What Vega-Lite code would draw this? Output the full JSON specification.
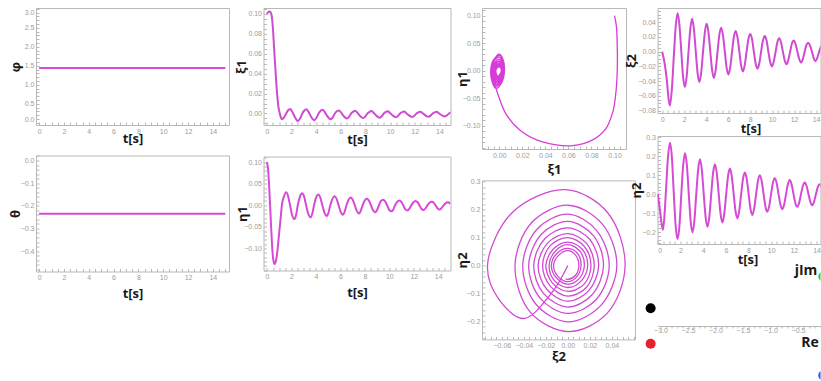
{
  "$schema": "https://vega.github.io/schema/vega-lite/v6.json",
  "background": "white",
  "padding": {"left": 8, "top": 7, "right": 0, "bottom": 0},
  "spacing": 4.5,
  "config": {
    "view": {"stroke": "#b8b8b8", "strokeWidth": 1},
    "axis": {
      "grid": false, "domain": false, "ticks": true, "tickSize": -3, "tickColor": "#b8b8b8",
      "labelPadding": 5, "labelFont": "Liberation Sans", "labelFontSize": 7, "labelColor": "#9c9c9c",
      "titleFont": "Open Sans", "titleFontSize": 13, "titleFontWeight": "bold", "titleColor": "#1a1a1a",
      "titleBaseline": "middle"
    }
  },
  "datasets": {
    "c": [{"t": 0, "phi": 1.44, "theta": -0.235}, {"t": 15, "phi": 1.44, "theta": -0.235}],
    "s1": [
      {"t":0,"xi":0.1,"eta":0.1},{"t":0.1,"xi":0.1016,"eta":0.082},{"t":0.2,"xi":0.1025,"eta":0.034},
      {"t":0.28,"xi":0.1022,"eta":-0.012},{"t":0.34,"xi":0.1008,"eta":-0.048},{"t":0.39,"xi":0.0985,"eta":-0.075},
      {"t":0.45,"xi":0.0922,"eta":-0.106},{"t":0.52,"xi":0.0807,"eta":-0.126},{"t":0.6,"xi":0.0635,"eta":-0.136},
      {"t":0.68,"xi":0.048,"eta":-0.134},{"t":0.76,"xi":0.032,"eta":-0.125},{"t":0.85,"xi":0.0175,"eta":-0.107},
      {"t":0.95,"xi":0.006,"eta":-0.079},
      {"t":1.05,"xi":0.0,"eta":-0.05},{"t":1.13,"xi":-0.0035,"eta":-0.027},{"t":1.22,"xi":-0.0058,"eta":0.0},
      {"t":1.4,"xi":-0.004,"eta":0.021},{"t":1.57,"xi":0.0,"eta":0.03},{"t":1.73,"xi":0.0032,"eta":0.021},
      {"t":1.89,"xi":0.0045,"eta":0.0},{"t":2.05,"xi":0.002,"eta":-0.022},{"t":2.25,"xi":-0.003,"eta":-0.032},
      {"t":2.4,"xi":-0.0062,"eta":-0.02},{"t":2.52,"xi":-0.0075,"eta":0.0},{"t":2.7,"xi":-0.005,"eta":0.02},
      {"t":2.88,"xi":0.0,"eta":0.028},{"t":3.04,"xi":0.003,"eta":0.02},{"t":3.2,"xi":0.0043,"eta":0.0},
      {"t":3.37,"xi":0.0018,"eta":-0.019},{"t":3.57,"xi":-0.0028,"eta":-0.028},{"t":3.72,"xi":-0.0056,"eta":-0.018},
      {"t":3.85,"xi":-0.0068,"eta":0.0},{"t":4.02,"xi":-0.0045,"eta":0.018},{"t":4.2,"xi":0.0,"eta":0.025},
      {"t":4.37,"xi":0.0027,"eta":0.017},{"t":4.53,"xi":0.0038,"eta":0.0},{"t":4.7,"xi":0.0014,"eta":-0.017},
      {"t":4.89,"xi":-0.0025,"eta":-0.025},{"t":5.04,"xi":-0.0048,"eta":-0.016},{"t":5.18,"xi":-0.0058,"eta":0.0},
      {"t":5.35,"xi":-0.004,"eta":0.015},{"t":5.52,"xi":0.0,"eta":0.021},{"t":5.69,"xi":0.0022,"eta":0.015},
      {"t":5.86,"xi":0.003,"eta":0.0},{"t":6.02,"xi":0.001,"eta":-0.015},{"t":6.21,"xi":-0.0022,"eta":-0.022},
      {"t":6.36,"xi":-0.0042,"eta":-0.014},{"t":6.5,"xi":-0.005,"eta":0.0},{"t":6.67,"xi":-0.0034,"eta":0.013},
      {"t":6.84,"xi":0.0,"eta":0.018},{"t":7.01,"xi":0.0019,"eta":0.013},{"t":7.18,"xi":0.0027,"eta":0.0},
      {"t":7.34,"xi":0.0008,"eta":-0.013},{"t":7.53,"xi":-0.002,"eta":-0.019},{"t":7.68,"xi":-0.0038,"eta":-0.012},
      {"t":7.82,"xi":-0.0046,"eta":0.0},{"t":7.99,"xi":-0.0031,"eta":0.011},{"t":8.16,"xi":0.0,"eta":0.016},
      {"t":8.33,"xi":0.0017,"eta":0.011},{"t":8.5,"xi":0.0025,"eta":0.0},{"t":8.66,"xi":0.0007,"eta":-0.011},
      {"t":8.85,"xi":-0.0018,"eta":-0.016},{"t":9.0,"xi":-0.0034,"eta":-0.011},{"t":9.15,"xi":-0.0042,"eta":0.0},
      {"t":9.32,"xi":-0.0028,"eta":0.01},{"t":9.49,"xi":0.0,"eta":0.013},{"t":9.66,"xi":0.0015,"eta":0.009},
      {"t":9.82,"xi":0.0022,"eta":0.0},{"t":9.98,"xi":0.0006,"eta":-0.01},{"t":10.17,"xi":-0.0016,"eta":-0.014},
      {"t":10.32,"xi":-0.003,"eta":-0.01},{"t":10.47,"xi":-0.0038,"eta":0.0},{"t":10.64,"xi":-0.0025,"eta":0.008},
      {"t":10.81,"xi":0.0,"eta":0.011},{"t":10.98,"xi":0.0014,"eta":0.008},{"t":11.14,"xi":0.002,"eta":0.0},
      {"t":11.3,"xi":0.0005,"eta":-0.009},{"t":11.49,"xi":-0.0015,"eta":-0.012},{"t":11.64,"xi":-0.0028,"eta":-0.008},
      {"t":11.8,"xi":-0.0035,"eta":0.0},{"t":11.97,"xi":-0.0023,"eta":0.007},{"t":12.14,"xi":0.0,"eta":0.01},
      {"t":12.31,"xi":0.0012,"eta":0.007},{"t":12.46,"xi":0.0018,"eta":0.0},{"t":12.62,"xi":0.0004,"eta":-0.008},
      {"t":12.81,"xi":-0.0014,"eta":-0.011},{"t":12.96,"xi":-0.0026,"eta":-0.007},{"t":13.12,"xi":-0.0032,"eta":0.0},
      {"t":13.29,"xi":-0.0021,"eta":0.006},{"t":13.46,"xi":0.0,"eta":0.008},{"t":13.63,"xi":0.0011,"eta":0.006},
      {"t":13.78,"xi":0.0017,"eta":0.0},{"t":13.94,"xi":0.0003,"eta":-0.007},{"t":14.13,"xi":-0.0013,"eta":-0.01},
      {"t":14.28,"xi":-0.0024,"eta":-0.006},{"t":14.44,"xi":-0.003,"eta":0.0},{"t":14.61,"xi":-0.0019,"eta":0.005},
      {"t":14.78,"xi":0.0,"eta":0.007},{"t":15.0,"xi":0.0015,"eta":0.004}
    ],
    "s2": [
      {"t":0,"xi":0,"eta":0},{"t":0.22,"xi":-0.015,"eta":-0.1},{"t":0.44,"xi":-0.04,"eta":-0.19},
      {"t":0.57,"xi":-0.062,"eta":-0.125},{"t":0.7,"xi":-0.073,"eta":0.0},{"t":0.89,"xi":-0.05,"eta":0.192},
      {"t":1.08,"xi":-0.002,"eta":0.272},{"t":1.245,"xi":0.036,"eta":0.19},{"t":1.41,"xi":0.052,"eta":0.0},
      {"t":1.575,"xi":0.036,"eta":-0.17},{"t":1.74,"xi":0.001,"eta":-0.237},{"t":1.905,"xi":-0.034,"eta":-0.168},
      {"t":2.07,"xi":-0.048,"eta":0.0},{"t":2.235,"xi":-0.033,"eta":0.153},{"t":2.4,"xi":0.0,"eta":0.216},
      {"t":2.565,"xi":0.031,"eta":0.15},{"t":2.73,"xi":0.0445,"eta":0.0},{"t":2.895,"xi":0.03,"eta":-0.143},
      {"t":3.06,"xi":0.0,"eta":-0.202},{"t":3.225,"xi":-0.029,"eta":-0.139},{"t":3.39,"xi":-0.041,"eta":0.0},
      {"t":3.555,"xi":-0.028,"eta":0.13},{"t":3.72,"xi":0.0,"eta":0.184},{"t":3.885,"xi":0.026,"eta":0.126},
      {"t":4.05,"xi":0.0376,"eta":0.0},{"t":4.215,"xi":0.026,"eta":-0.121},{"t":4.38,"xi":0.0,"eta":-0.172},
      {"t":4.545,"xi":-0.025,"eta":-0.118},{"t":4.71,"xi":-0.0356,"eta":0.0},{"t":4.875,"xi":-0.024,"eta":0.112},
      {"t":5.04,"xi":0.0,"eta":0.158},{"t":5.205,"xi":0.023,"eta":0.108},{"t":5.37,"xi":0.0324,"eta":0.0},
      {"t":5.535,"xi":0.022,"eta":-0.105},{"t":5.7,"xi":0.0,"eta":-0.149},{"t":5.865,"xi":-0.022,"eta":-0.101},
      {"t":6.03,"xi":-0.031,"eta":0.0},{"t":6.195,"xi":-0.021,"eta":0.096},{"t":6.36,"xi":0.0,"eta":0.135},
      {"t":6.525,"xi":0.02,"eta":0.093},{"t":6.69,"xi":0.028,"eta":0.0},{"t":6.855,"xi":0.019,"eta":-0.09},
      {"t":7.02,"xi":0.0,"eta":-0.128},{"t":7.185,"xi":-0.019,"eta":-0.086},{"t":7.35,"xi":-0.027,"eta":0.0},
      {"t":7.515,"xi":-0.018,"eta":0.082},{"t":7.68,"xi":0.0,"eta":0.114},{"t":7.845,"xi":0.017,"eta":0.079},
      {"t":8.01,"xi":0.024,"eta":0.0},{"t":8.175,"xi":0.017,"eta":-0.078},{"t":8.34,"xi":0.0,"eta":-0.11},
      {"t":8.505,"xi":-0.016,"eta":-0.074},{"t":8.67,"xi":-0.023,"eta":0.0},{"t":8.835,"xi":-0.016,"eta":0.071},
      {"t":9.0,"xi":0.0,"eta":0.1},{"t":9.165,"xi":0.015,"eta":0.068},{"t":9.33,"xi":0.021,"eta":0.0},
      {"t":9.495,"xi":0.015,"eta":-0.066},{"t":9.66,"xi":0.0,"eta":-0.093},{"t":9.825,"xi":-0.014,"eta":-0.063},
      {"t":9.99,"xi":-0.02,"eta":0.0},{"t":10.155,"xi":-0.013,"eta":0.06},{"t":10.32,"xi":0.0,"eta":0.084},
      {"t":10.485,"xi":0.013,"eta":0.058},{"t":10.65,"xi":0.018,"eta":0.0},{"t":10.815,"xi":0.012,"eta":-0.056},
      {"t":10.98,"xi":0.0,"eta":-0.079},{"t":11.145,"xi":-0.012,"eta":-0.055},{"t":11.31,"xi":-0.017,"eta":0.0},
      {"t":11.475,"xi":-0.011,"eta":0.053},{"t":11.64,"xi":0.0,"eta":0.075},{"t":11.805,"xi":0.011,"eta":0.051},
      {"t":11.97,"xi":0.015,"eta":0.0},{"t":12.135,"xi":0.01,"eta":-0.048},{"t":12.3,"xi":0.0,"eta":-0.067},
      {"t":12.465,"xi":-0.01,"eta":-0.046},{"t":12.63,"xi":-0.015,"eta":0.0},{"t":12.795,"xi":-0.01,"eta":0.043},
      {"t":12.96,"xi":0.0,"eta":0.061},{"t":13.125,"xi":0.009,"eta":0.042},{"t":13.29,"xi":0.012,"eta":0.0},
      {"t":13.455,"xi":0.008,"eta":-0.041},{"t":13.62,"xi":0.0,"eta":-0.058},{"t":13.785,"xi":-0.009,"eta":-0.039},
      {"t":13.95,"xi":-0.013,"eta":0.0},{"t":14.115,"xi":-0.008,"eta":0.038},{"t":14.28,"xi":0.0,"eta":0.053},
      {"t":14.445,"xi":0.007,"eta":0.037},{"t":14.61,"xi":0.01,"eta":0.0},{"t":14.775,"xi":0.007,"eta":-0.035},
      {"t":14.94,"xi":0.0,"eta":-0.05},{"t":15.0,"xi":-0.002,"eta":-0.048}
    ],
    "poles": [
      {"pole":"a","re":-3.18,"im":1.7},{"pole":"b","re":-3.18,"im":-1.7},
      {"pole":"c","re":-0.04,"im":4.75},{"pole":"d","re":-0.04,"im":-4.75}
    ]
  },
  "hconcat": [
    {
      "vconcat": [
        {
          "width": 193, "height": 117, "data": {"name": "c"},
          "mark": {"type": "line", "color": "#d64ad6", "strokeWidth": 2, "clip": true},
          "encoding": {
            "x": {"field": "t", "type": "quantitative", "scale": {"domain": [-0.25, 15.3], "nice": false, "zero": false},
                  "axis": {"values": [0,0.5,1,1.5,2,2.5,3,3.5,4,4.5,5,5.5,6,6.5,7,7.5,8,8.5,9,9.5,10,10.5,11,11.5,12,12.5,13,13.5,14,14.5,15],
                           "labelExpr": "datum.value % 2 === 0 ? format(datum.value, 'd') : ''", "title": "t[s]", "titleY": 13}},
            "y": {"field": "phi", "type": "quantitative", "scale": {"domain": [-0.06, 3.02], "nice": false, "zero": false},
                  "axis": {"values": [0,0.1,0.2,0.3,0.4,0.5,0.6,0.7,0.8,0.9,1,1.1,1.2,1.3,1.4,1.5,1.6,1.7,1.8,1.9,2,2.1,2.2,2.3,2.4,2.5,2.6,2.7,2.8,2.9,3],
                           "labelExpr": "abs(datum.value*2 - round(datum.value*2)) < 0.000001 ? format(datum.value, '.1f') : ''",
                           "labelFlush": 3, "title": "φ", "titleX": -21}}
          }
        },
        {
          "width": 193, "height": 116, "data": {"name": "c"},
          "mark": {"type": "line", "color": "#d64ad6", "strokeWidth": 2, "clip": true},
          "encoding": {
            "x": {"field": "t", "type": "quantitative", "scale": {"domain": [-0.25, 15.3], "nice": false, "zero": false},
                  "axis": {"values": [0,0.5,1,1.5,2,2.5,3,3.5,4,4.5,5,5.5,6,6.5,7,7.5,8,8.5,9,9.5,10,10.5,11,11.5,12,12.5,13,13.5,14,14.5,15],
                           "labelExpr": "datum.value % 2 === 0 ? format(datum.value, 'd') : ''", "title": "t[s]", "titleY": 22}},
            "y": {"field": "theta", "type": "quantitative", "scale": {"domain": [-0.49, 0.022], "nice": false, "zero": false},
                  "axis": {"values": [-0.48,-0.46,-0.44,-0.42,-0.4,-0.38,-0.36,-0.34,-0.32,-0.3,-0.28,-0.26,-0.24,-0.22,-0.2,-0.18,-0.16,-0.14,-0.12,-0.1,-0.08,-0.06,-0.04,-0.02,0,0.02],
                           "labelExpr": "abs(datum.value*10 - round(datum.value*10)) < 0.000001 ? format(datum.value, '.1f') : ''",
                           "title": "θ", "titleX": -21}}
          }
        }
      ],
      "spacing": 8.5
    },
    {
      "hconcat": [
        {
          "vconcat": [
            {
              "width": 187, "height": 117, "data": {"name": "s1"},
              "mark": {"type": "line", "color": "#d04ad2", "strokeWidth": 2, "clip": true, "interpolate": "monotone"},
              "encoding": {
                "x": {"field": "t", "type": "quantitative", "scale": {"domain": [-0.27, 14.9], "nice": false, "zero": false},
                      "axis": {"values": [0,0.5,1,1.5,2,2.5,3,3.5,4,4.5,5,5.5,6,6.5,7,7.5,8,8.5,9,9.5,10,10.5,11,11.5,12,12.5,13,13.5,14,14.5],
                               "labelExpr": "datum.value % 2 === 0 ? format(datum.value, 'd') : ''", "title": "t[s]", "titleY": 14}},
                "y": {"field": "xi", "type": "quantitative", "scale": {"domain": [-0.0116, 0.106], "nice": false, "zero": false},
                      "axis": {"values": [-0.01,-0.005,0,0.005,0.01,0.015,0.02,0.025,0.03,0.035,0.04,0.045,0.05,0.055,0.06,0.065,0.07,0.075,0.08,0.085,0.09,0.095,0.1,0.105],
                               "labelExpr": "datum.value >= 0 && abs(datum.value*50 - round(datum.value*50)) < 0.000001 ? format(datum.value, '.2f') : ''",
                               "title": "ξ1", "titleX": -22}}
              }
            },
            {
              "width": 187, "height": 114, "data": {"name": "s1"},
              "mark": {"type": "line", "color": "#d64ad6", "strokeWidth": 2, "clip": true, "interpolate": "monotone"},
              "encoding": {
                "x": {"field": "t", "type": "quantitative", "scale": {"domain": [-0.28, 15.0], "nice": false, "zero": false},
                      "axis": {"values": [0,0.5,1,1.5,2,2.5,3,3.5,4,4.5,5,5.5,6,6.5,7,7.5,8,8.5,9,9.5,10,10.5,11,11.5,12,12.5,13,13.5,14,14.5],
                               "labelExpr": "datum.value % 2 === 0 ? format(datum.value, 'd') : ''", "title": "t[s]", "titleY": 22}},
                "y": {"field": "eta", "type": "quantitative", "scale": {"domain": [-0.151, 0.113], "nice": false, "zero": false},
                      "axis": {"values": [-0.15,-0.14,-0.13,-0.12,-0.11,-0.1,-0.09,-0.08,-0.07,-0.06,-0.05,-0.04,-0.03,-0.02,-0.01,0,0.01,0.02,0.03,0.04,0.05,0.06,0.07,0.08,0.09,0.1,0.11],
                               "labelExpr": "abs(datum.value*20 - round(datum.value*20)) < 0.000001 && abs(datum.value) < 0.12 ? format(datum.value, '.2f') : ''",
                               "title": "η1", "titleX": -21}}
              }
            }
          ],
          "spacing": 8.5
        },
        {
          "hconcat": [
            {
              "vconcat": [
                {
                  "width": 144, "height": 141, "data": {"name": "s1"},
                  "mark": {"type": "line", "color": "#d83cd8", "strokeWidth": 1.3, "clip": true, "interpolate": "catmull-rom"},
                  "encoding": {
                    "order": {"field": "t", "type": "quantitative"},
                    "x": {"field": "xi", "type": "quantitative", "scale": {"domain": [-0.015, 0.11], "nice": false, "zero": false},
                          "axis": {"values": [-0.01,-0.005,0,0.005,0.01,0.015,0.02,0.025,0.03,0.035,0.04,0.045,0.05,0.055,0.06,0.065,0.07,0.075,0.08,0.085,0.09,0.095,0.1,0.105],
                                   "labelExpr": "datum.value >= 0 && abs(datum.value*50 - round(datum.value*50)) < 0.000001 ? format(datum.value, '.2f') : ''",
                                   "title": "ξ1", "titleY": 20}},
                    "y": {"field": "eta", "type": "quantitative", "scale": {"domain": [-0.142, 0.114], "nice": false, "zero": false},
                          "axis": {"values": [-0.14,-0.13,-0.12,-0.11,-0.1,-0.09,-0.08,-0.07,-0.06,-0.05,-0.04,-0.03,-0.02,-0.01,0,0.01,0.02,0.03,0.04,0.05,0.06,0.07,0.08,0.09,0.1,0.11],
                                   "labelExpr": "abs(datum.value*20 - round(datum.value*20)) < 0.000001 ? format(datum.value, '.2f') : ''",
                                   "title": "η1", "titleX": -20}}
                  }
                },
                {
                  "width": 153, "height": 159, "data": {"name": "s2"},
                  "mark": {"type": "line", "color": "#d04ad2", "strokeWidth": 1.3, "clip": true, "interpolate": "catmull-rom"},
                  "encoding": {
                    "order": {"field": "t", "type": "quantitative"},
                    "x": {"field": "xi", "type": "quantitative", "scale": {"domain": [-0.078, 0.061], "nice": false, "zero": false},
                          "axis": {"values": [-0.08,-0.075,-0.07,-0.065,-0.06,-0.055,-0.05,-0.045,-0.04,-0.035,-0.03,-0.025,-0.02,-0.015,-0.01,-0.005,0,0.005,0.01,0.015,0.02,0.025,0.03,0.035,0.04,0.045,0.05,0.055,0.06],
                                   "labelExpr": "abs(datum.value*50 - round(datum.value*50)) < 0.000001 && datum.value < 0.05 ? format(datum.value, '.2f') : ''",
                                   "title": "ξ2", "titleY": 17}},
                    "y": {"field": "eta", "type": "quantitative", "scale": {"domain": [-0.265, 0.305], "nice": false, "zero": false},
                          "axis": {"values": [-0.26,-0.24,-0.22,-0.2,-0.18,-0.16,-0.14,-0.12,-0.1,-0.08,-0.06,-0.04,-0.02,0,0.02,0.04,0.06,0.08,0.1,0.12,0.14,0.16,0.18,0.2,0.22,0.24,0.26,0.28,0.3],
                                   "labelExpr": "abs(datum.value*10 - round(datum.value*10)) < 0.000001 ? format(datum.value, '.1f') : ''",
                                   "title": "η2", "titleX": -20}}
                  }
                }
              ],
              "spacing": -0.6
            },
            {
              "vconcat": [
                {
                  "width": 163, "height": 105, "data": {"name": "s2"},
                  "mark": {"type": "line", "color": "#d04ad2", "strokeWidth": 2, "clip": true, "interpolate": "monotone"},
                  "encoding": {
                    "x": {"field": "t", "type": "quantitative", "scale": {"domain": [-0.42, 14.4], "nice": false, "zero": false},
                          "axis": {"values": [0,0.5,1,1.5,2,2.5,3,3.5,4,4.5,5,5.5,6,6.5,7,7.5,8,8.5,9,9.5,10,10.5,11,11.5,12,12.5,13,13.5,14],
                                   "labelExpr": "datum.value % 2 === 0 ? format(datum.value, 'd') : ''", "title": "t[s]", "titleY": 15, "titleX": 93}},
                    "y": {"field": "xi", "type": "quantitative", "scale": {"domain": [-0.083, 0.059], "nice": false, "zero": false},
                          "axis": {"values": [-0.118,-0.08,-0.075,-0.07,-0.065,-0.06,-0.055,-0.05,-0.045,-0.04,-0.035,-0.03,-0.025,-0.02,-0.015,-0.01,-0.005,0,0.005,0.01,0.015,0.02,0.025,0.03,0.035,0.04,0.045,0.05,0.055],
                                   "tickOpacity": {"condition": {"test": "datum.value < -0.1", "value": 0}, "value": 1},
                                   "labelExpr": "datum.value > -0.1 && abs(datum.value*50 - round(datum.value*50)) < 0.000001 ? format(datum.value, '.2f') : ''",
                                   "title": "ξ2", "titleX": -26}}
                  }
                },
                {
                  "width": 163, "height": 108, "data": {"name": "s2"},
                  "mark": {"type": "line", "color": "#d64ad6", "strokeWidth": 2, "clip": true, "interpolate": "monotone"},
                  "encoding": {
                    "x": {"field": "t", "type": "quantitative", "scale": {"domain": [-0.03, 14.35], "nice": false, "zero": false},
                          "axis": {"values": [0,0.5,1,1.5,2,2.5,3,3.5,4,4.5,5,5.5,6,6.5,7,7.5,8,8.5,9,9.5,10,10.5,11,11.5,12,12.5,13,13.5,14],
                                   "labelExpr": "datum.value % 2 === 0 ? format(datum.value, 'd') : ''", "title": "t[s]", "titleY": 15, "titleX": 90}},
                    "y": {"field": "eta", "type": "quantitative", "scale": {"domain": [-0.263, 0.307], "nice": false, "zero": false},
                          "axis": {"values": [-0.26,-0.24,-0.22,-0.2,-0.18,-0.16,-0.14,-0.12,-0.1,-0.08,-0.06,-0.04,-0.02,0,0.02,0.04,0.06,0.08,0.1,0.12,0.14,0.16,0.18,0.2,0.22,0.24,0.26,0.28,0.3],
                                   "labelExpr": "abs(datum.value*10 - round(datum.value*10)) < 0.000001 ? format(datum.value, '.1f') : ''",
                                   "title": "η2", "titleX": -21}}
                  }
                },
                {
                  "width": 163, "height": 116, "data": {"name": "poles"},
                  "view": {"stroke": null},
                  "encoding": {
                    "x": {"field": "re", "type": "quantitative", "scale": {"domain": [-3.055, -0.091], "nice": false, "zero": false},
                          "axis": {"offset": -57, "domain": true, "domainColor": "#b8b8b8", "tickSize": 2, "labelPadding": -2,
                                   "values": [-3,-2.9,-2.8,-2.7,-2.6,-2.5,-2.4,-2.3,-2.2,-2.1,-2,-1.9,-1.8,-1.7,-1.6,-1.5,-1.4,-1.3,-1.2,-1.1,-1,-0.9,-0.8,-0.7,-0.6,-0.5,-0.4,-0.3,-0.2,-0.1],
                                   "labelExpr": "abs(datum.value*2 - round(datum.value*2)) < 0.01 ? format(datum.value, '.1f') : ''",
                                   "title": "Re", "titleX": 152, "titleY": 16, "titleFontSize": 14}},
                    "y": {"field": "im", "type": "quantitative", "scale": {"domain": [-5.48, 5.67], "nice": false, "zero": false},
                          "axis": {"domain": false, "ticks": false, "labels": false, "title": "jIm", "titleAngle": 0, "titleAlign": "center",
                                   "titleX": 148, "titleY": 3, "titleFontSize": 14}},
                    "color": {"field": "pole", "type": "nominal",
                              "scale": {"domain": ["a","b","c","d"], "range": ["#000000","#e8202a","#2ecc40","#3050f0"]}, "legend": null}
                  },
                  "layer": [
                    {"transform": [{"filter": "datum.re < -1"}], "mark": {"type": "point", "filled": true, "size": 100, "opacity": 1, "clip": false}},
                    {"transform": [{"filter": "datum.re > -1"}], "mark": {"type": "point", "filled": true, "size": 100, "opacity": 1, "clip": true}}
                  ]
                }
              ],
              "spacing": -7
            }
          ],
          "spacing": -11.5
        }
      ],
      "spacing": 3.5
    }
  ]
}
